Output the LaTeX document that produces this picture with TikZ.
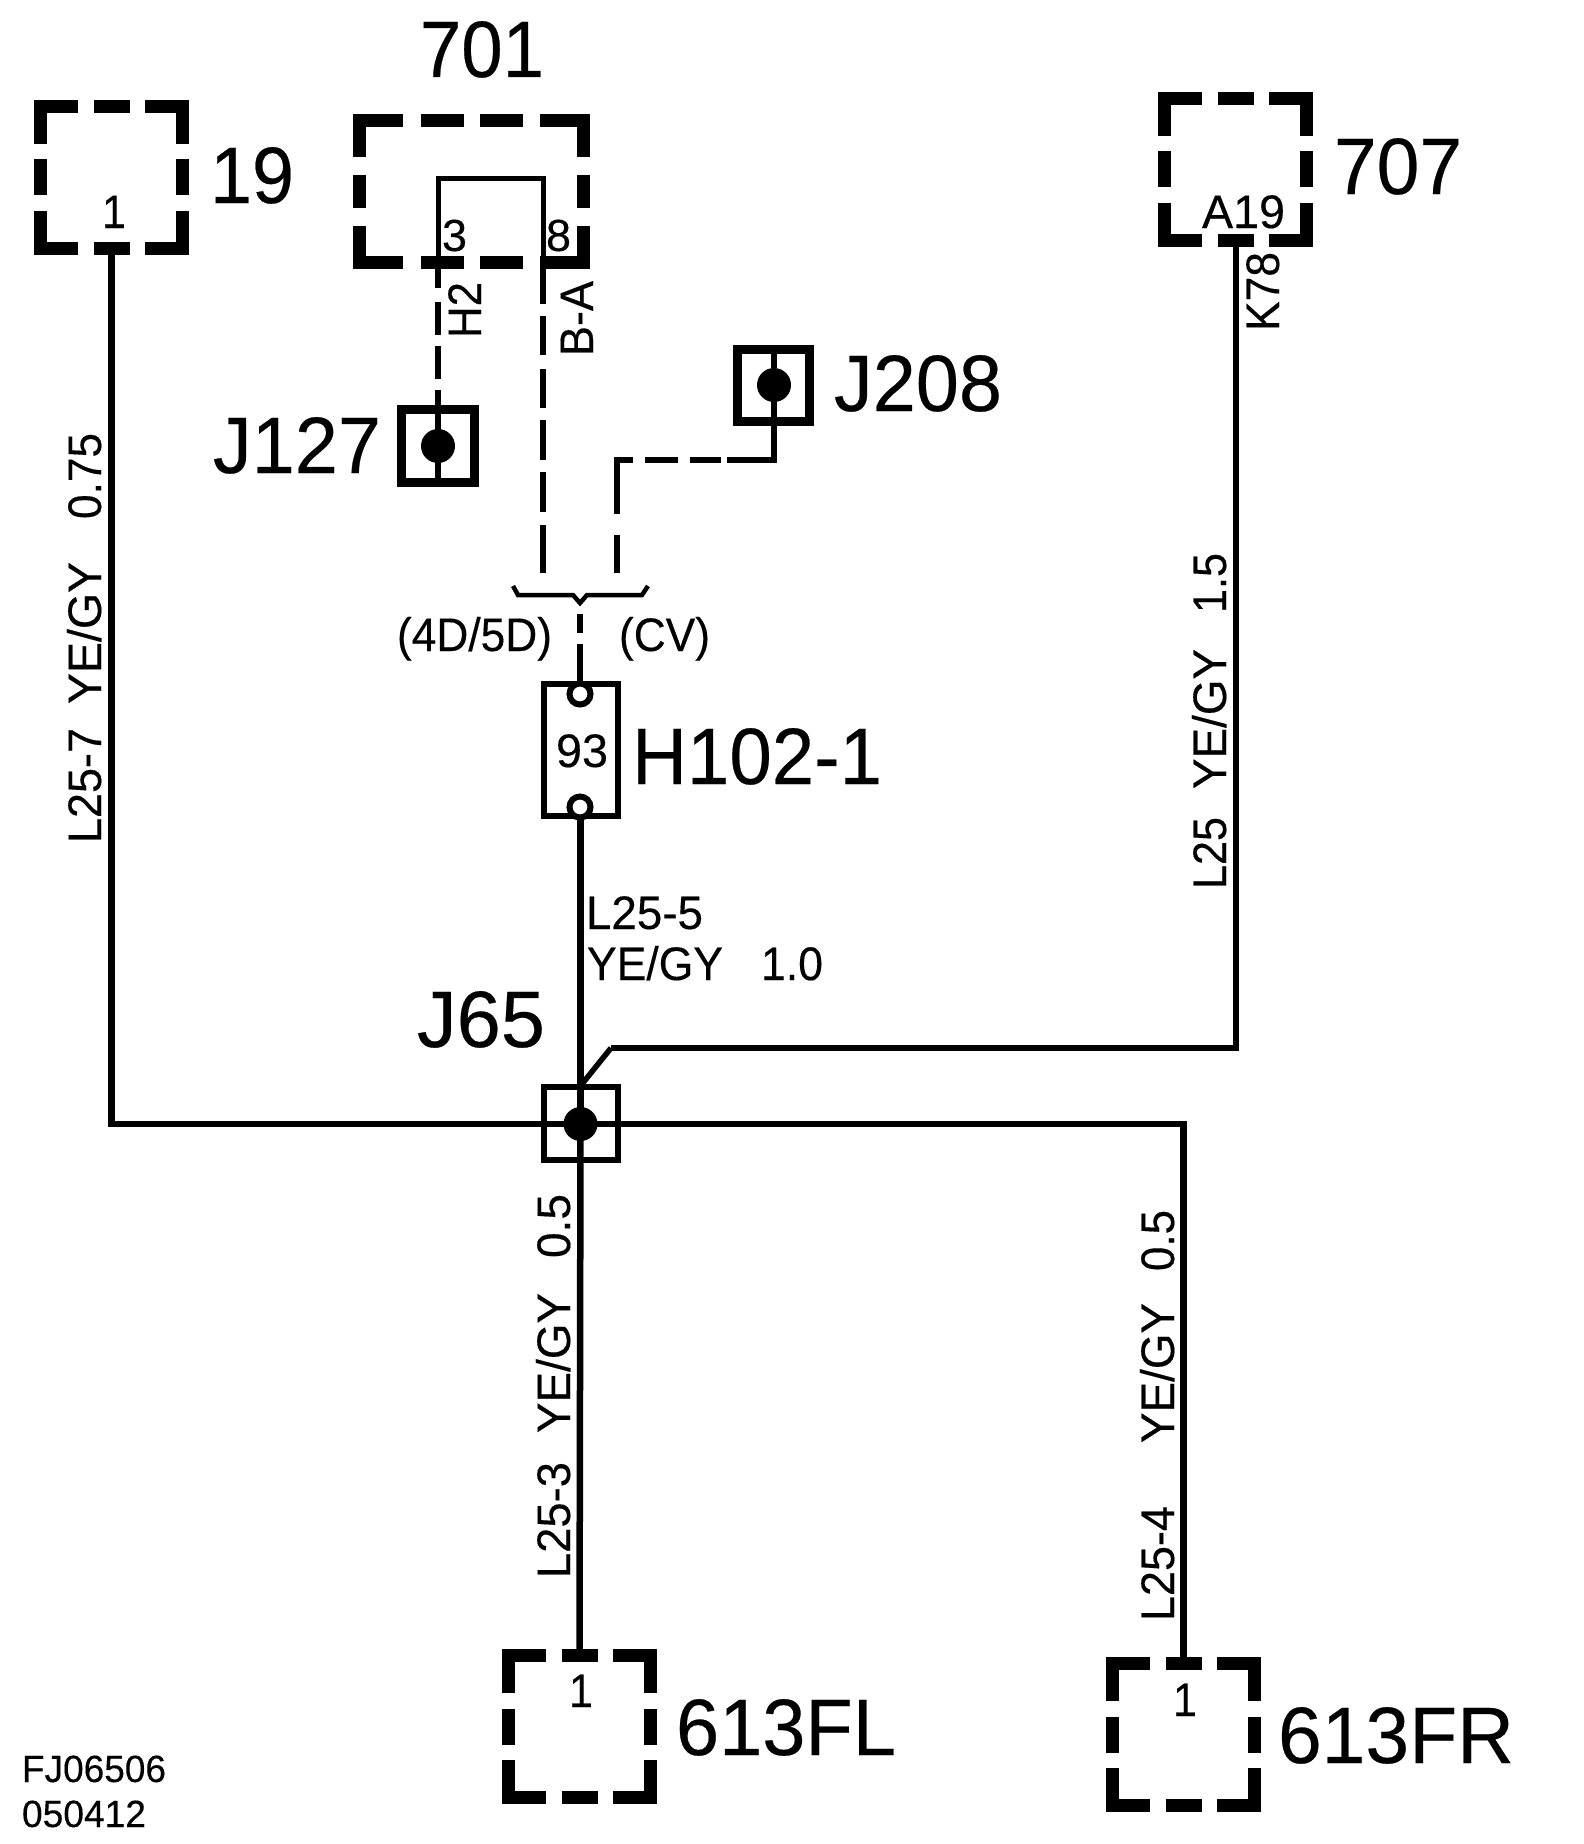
\documentclass[tikz,border=0pt]{standalone}
\usepackage{graphicx}
\usepackage{fontspec}
\setmainfont{Liberation Sans}[FakeBold=0.25,AutoFakeBold=0.25]
\newfontface\heavy{Liberation Sans}[FakeBold=0.3]
\tikzset{
  wire/.style={line width=6.5pt},
  thinwire/.style={line width=5.5pt},
  dashbar/.style={line width=13pt,miter limit=10},
  junction/.style={draw,line width=#1,inner sep=0pt},
  dotfill/.style={circle,fill=black,inner sep=0pt,minimum size=34pt},
  ring/.style={circle,draw,fill=white,line width=6pt,inner sep=0pt,minimum size=21pt},
  lbl/.style={inner sep=0pt,outer sep=0pt,anchor=base west},
  vlbl/.style={inner sep=0pt,outer sep=0pt,anchor=base west,rotate=90}
}
% horizontal text: name, x, baseline y, width, size, text
\newcommand{\htxt}[6]{\node[lbl] (#1) at (#2,#3) {\heavy\fontsize{#5}{#5}\selectfont\resizebox{#4pt}{\height}{#6}};}
% vertical text reading upward: name, baseline x, start y, length, text
\newcommand{\vtxt}[5]{\node[vlbl] (#1) at (#2,#3) {\heavy\fontsize{47}{47}\selectfont\resizebox{#4pt}{\height}{#5}};}
% square dashed box, outer 155: name, cx, cy
\newcommand{\dsquare}[3]{%
  \node[minimum size=155pt,inner sep=0pt,outer sep=0pt] (#1) at (#2,#3) {};
  \begin{scope}[shift={(#2,#3)}]
    \draw[dashbar] (-33.5,-71) -- (-71,-71) -- (-71,-33.5);
    \draw[dashbar] (33.5,-71) -- (71,-71) -- (71,-33.5);
    \draw[dashbar] (-33.5,71) -- (-71,71) -- (-71,33.5);
    \draw[dashbar] (33.5,71) -- (71,71) -- (71,33.5);
    \draw[dashbar] (-18,-71) -- (18,-71);
    \draw[dashbar] (-18,71) -- (18,71);
    \draw[dashbar] (-71,-18) -- (-71,18);
    \draw[dashbar] (71,-18) -- (71,18);
  \end{scope}}
\begin{document}
\begin{tikzpicture}[x=1pt,y=-1pt]
\useasboundingbox (0,0) rectangle (1584,1844);

% dashed boxes
\dsquare{b19}{111.5}{177}
\dsquare{b707}{1235.5}{169}
\dsquare{bFL}{579.5}{1726.5}
\dsquare{bFR}{1183.5}{1734.5}

% wide dashed box 701
\node[minimum width=237pt,minimum height=155pt,inner sep=0pt,outer sep=0pt] (b701) at (471.5,191.5) {};
\begin{scope}[shift={(471.5,191.5)}]
  \draw[dashbar] (-68.5,-71) -- (-112,-71) -- (-112,-34.5);
  \draw[dashbar] (68.5,-71) -- (112,-71) -- (112,-34.5);
  \draw[dashbar] (-68.5,71) -- (-112,71) -- (-112,34.5);
  \draw[dashbar] (68.5,71) -- (112,71) -- (112,34.5);
  \draw[dashbar] (-50.5,-71) -- (-7.5,-71);
  \draw[dashbar] (8.5,-71) -- (51.5,-71);
  \draw[dashbar] (-50.5,71) -- (-7.5,71);
  \draw[dashbar] (8.5,71) -- (51.5,71);
  \draw[dashbar] (-112,-16.5) -- (-112,16.5);
  \draw[dashbar] (112,-16.5) -- (112,16.5);
\end{scope}

% junctions and splice
\node[junction=9pt,minimum size=73pt] (J127) at (438,446) {};
\node[junction=9pt,minimum size=72pt] (J208) at (773.5,385.5) {};
\node[junction=6pt,minimum width=74pt,minimum height=73pt] (J65) at (580.5,1123.5) {};
\node[junction=6pt,minimum width=74pt,minimum height=132pt] (H102) at (581,750) {};
\node[dotfill] (dJ127) at (438,446) {};
\node[dotfill] (dJ208) at (774,385) {};
\node[dotfill] (dJ65) at (580.5,1124) {};
\node[ring] (rTop) at (580,694) {};
\node[ring] (rBot) at (580,807) {};

% pin coordinates
\coordinate (c65) at (580.5,1124);
\coordinate (pin3) at (438,269);
\coordinate (pin8) at (543,269);
\coordinate (loopL) at (438,178);
\coordinate (loopR) at (543,178);
\coordinate (end4D) at (543,573);
\coordinate (endCV) at (617,573);
\coordinate (cornerCV) at (617,460);
\coordinate (braceOut) at (580,614);
\coordinate (bendA) at (611,1048);
\coordinate (brL0) at (513,586);
\coordinate (brL1) at (518,595);
\coordinate (brC0) at (573,595);
\coordinate (brC) at (580,603);
\coordinate (brC1) at (587,595);
\coordinate (brR1) at (642,595);
\coordinate (brR0) at (648,586);

% solid wires
\draw[wire] (b19.south) |- (c65);
\draw[wire] (c65) -| (bFR.north);
\draw[wire] (c65) -- (bFL.north);
\draw[wire] (H102.south -| J65.north) -- (c65);
\draw[line width=6pt] (b707.south) |- (bendA);
\draw[line width=5.5pt] (bendA) -- (582,1084);
\draw[line width=5pt] (pin3) -- (loopL) -- (loopR) -- (pin8);

% dashed wires
\draw[thinwire,dash pattern=on 19pt off 14pt on 33pt off 11pt on 33pt off 11pt on 120pt] (pin3) -- (J127.south);
\draw[thinwire,dash pattern=on 35pt off 12pt on 39pt off 14pt on 39pt off 12pt on 40pt off 12pt on 40pt off 13pt on 60pt] (pin8) -- (end4D);
\draw[thinwire] (J208.north -| dJ208) -- (dJ208);
\draw[thinwire,dash pattern=on 105pt off 6pt on 31pt off 12pt on 33pt off 12pt on 70pt off 21pt on 80pt] (dJ208) |- (cornerCV) -- (endCV);
\draw[thinwire,dash pattern=on 19pt off 11pt on 60pt] (braceOut) -- (rTop.north);

% brace
\draw[line width=4.5pt] (brL0) -- (brL1) -- (brC0) -- (brC) -- (brC1) -- (brR1) -- (brR0);

% big labels
\htxt{t701}{420}{77}{124}{80}{701}
\htxt{t19}{210}{203}{84}{80}{19}
\htxt{t707}{1334}{194}{128}{80}{707}
\htxt{tJ127}{213}{473}{168}{80}{J127}
\htxt{tJ208}{834}{411}{168}{80}{J208}
\htxt{tH102}{632}{784}{250}{80}{H102-1}
\htxt{tJ65}{417}{1047}{128}{80}{J65}
\htxt{tFL}{676}{1755}{220}{80}{613FL}
\htxt{tFR}{1278}{1763}{236}{80}{613FR}

% small horizontal labels
\htxt{p1a}{102}{228}{24}{47}{1}
\htxt{pA19}{1202}{228}{83}{47}{A19}
\htxt{p3}{442}{251}{25}{45}{3}
\htxt{p8}{546}{251}{25}{45}{8}
\htxt{p93}{556}{767}{52}{47}{93}
\htxt{pFL}{569}{1707}{24}{47}{1}
\htxt{pFR}{1173}{1716}{24}{47}{1}
\htxt{t4D}{397}{651}{155}{47}{(4D/5D)}
\htxt{tCV}{619}{651}{91}{47}{(CV)}
\htxt{tL5}{586}{929}{117}{47}{L25-5}
\htxt{tYG5}{587}{980}{136}{47}{YE/GY}
\htxt{t10}{761}{980}{62}{47}{1.0}
\htxt{tF1}{22}{1782}{144}{38}{FJ06506}
\htxt{tF2}{22}{1827}{124}{38}{050412}

% vertical labels
\vtxt{vH2}{481}{338}{56}{H2}
\vtxt{vBA}{593}{356}{75}{B-A}
\vtxt{vK78}{1279}{331}{79}{K78}
\vtxt{vA1}{101}{843}{115}{L25-7}
\vtxt{vA2}{101}{704}{142}{YE/GY}
\vtxt{vA3}{101}{519}{86}{0.75}
\vtxt{vB1}{1226}{889}{72}{L25}
\vtxt{vB2}{1226}{789}{140}{YE/GY}
\vtxt{vB3}{1226}{613}{60}{1.5}
\vtxt{vC1}{570}{1578}{116}{L25-3}
\vtxt{vC2}{570}{1433}{140}{YE/GY}
\vtxt{vC3}{570}{1258}{64}{0.5}
\vtxt{vD1}{1174}{1621}{115}{L25-4}
\vtxt{vD2}{1174}{1443}{140}{YE/GY}
\vtxt{vD3}{1174}{1271}{61}{0.5}
\end{tikzpicture}
\end{document}
